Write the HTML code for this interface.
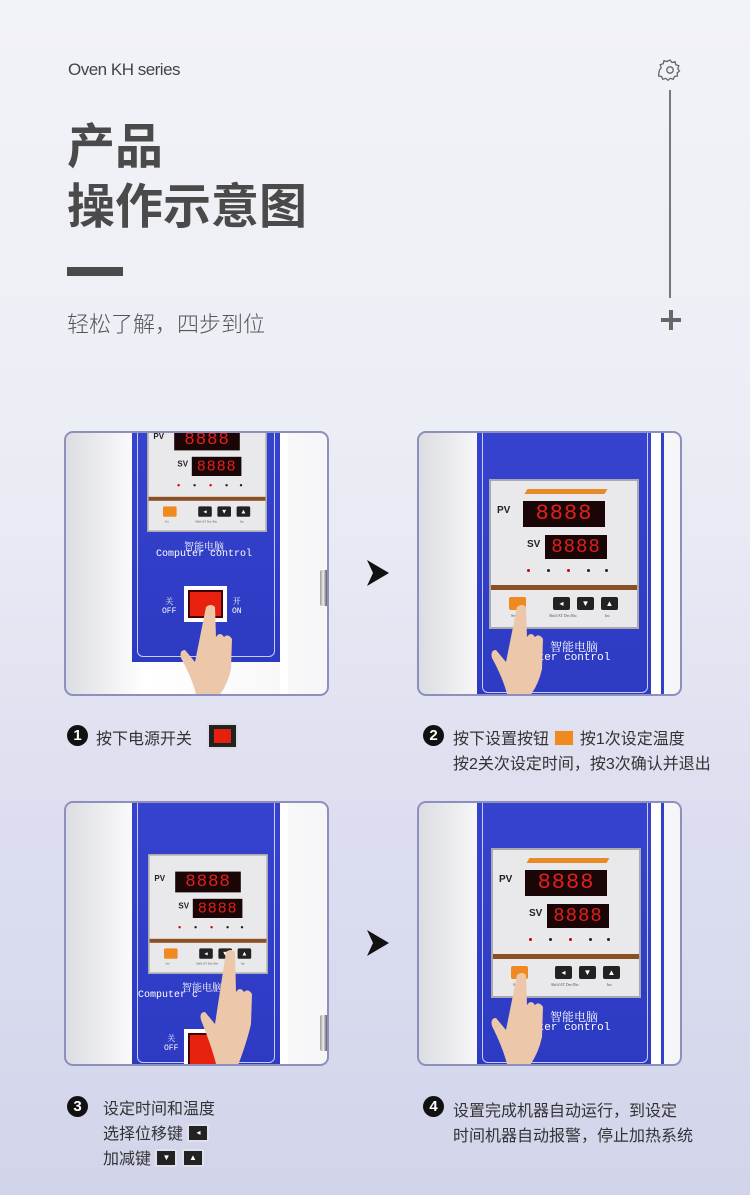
<!DOCTYPE html>
<html><head><meta charset="utf-8"><style>
*{margin:0;padding:0;box-sizing:border-box}
body{width:750px;height:1195px;position:relative;overflow:hidden;font-family:"Liberation Sans","Noto Sans CJK SC",sans-serif;background:linear-gradient(180deg,#f2f3f8 0%,#eceef5 35%,#dcdef0 70%,#d2d4ea 100%);color:#333}
.a{position:absolute}
.panel{position:absolute;width:265px;height:265px;border:2px solid #8d90bd;border-radius:9px;overflow:hidden;background:linear-gradient(90deg,#dcdde2 0%,#f4f4f6 20%,#ffffff 30%,#f6f6f8 100%)}
.blue{position:absolute;background:#3140c8;background:linear-gradient(180deg,#3543cf,#2d3ac2)}
.blue:after{content:"";position:absolute;left:5px;right:5px;top:-10px;bottom:5px;border:1.5px solid #c9cdf3;border-radius:6px}
.ctrl{position:absolute;width:150px;height:150px;background:#e9e9ec;border:2px solid #a9a9ae;transform-origin:0 0}
.disp{position:absolute;background:#1a0606;color:#e0201c;font-family:"Liberation Mono",monospace;letter-spacing:1px;text-align:center;overflow:hidden}
.lbl{position:absolute;font-size:9px;font-weight:bold;color:#222}
.led{position:absolute;width:3px;height:3px;border-radius:50%}
.btn{position:absolute;width:17px;height:13px;background:#222;border-radius:2px;color:#fff;font-size:8px;text-align:center;line-height:13px}
.tiny{position:absolute;font-size:4px;color:#555;font-family:"Liberation Serif",serif}
.num{position:absolute;width:21px;height:21px;border-radius:50%;background:#111;color:#fff;font-size:15px;font-weight:bold;text-align:center;line-height:21px}
.cap{position:absolute;font-size:16px;color:#333;font-family:"Liberation Sans","Noto Sans CJK SC",sans-serif;white-space:nowrap}
.cc{position:absolute;color:#fff;font-family:"Liberation Mono","Noto Serif CJK SC",monospace;font-size:10px;white-space:nowrap;text-align:center}
.ico{display:inline-block;vertical-align:middle;width:18px;height:14px;background:#222;border-radius:2px;position:relative;top:-2px;border:2px solid #dfe0ea;box-sizing:content-box;color:#fff;font-size:8px;line-height:14px;text-align:center}
</style></head><body>

<div class="a" style="left:68px;top:60px;font-size:17px;color:#444;letter-spacing:-0.5px">Oven KH series</div>
<div class="a" style="left:67px;top:112px;font-size:48px;font-weight:bold;color:#4a4a4a;line-height:60px;font-family:'Noto Sans CJK SC',sans-serif">产品<br>操作示意图</div>
<div class="a" style="left:67px;top:267px;width:56px;height:9px;background:#4a4a4a"></div>
<div class="a" style="left:67px;top:307px;font-size:22px;color:#555;font-family:'Noto Sans CJK SC',sans-serif;font-weight:300">轻松了解，四步到位</div>
<svg class="a" style="left:658px;top:58px" width="24" height="24" viewBox="0 0 24 24"><path d="M12 2l2 2.5 3-.8.8 3 3 1-1 3 1.7 2.3-2.4 2 .4 3-3 .5-1.3 2.8-3-1-2.2 2-2.2-2-3 1-1.3-2.8-3-.5.4-3L1.5 12l1.7-2.3-1-3 3-1 .8-3 3 .8z" fill="none" stroke="#666" stroke-width="1.3"/><circle cx="12" cy="12" r="3.2" fill="none" stroke="#666" stroke-width="1.3"/></svg>
<div class="a" style="left:669px;top:90px;width:2px;height:208px;background:#777"></div>
<div class="a" style="left:661px;top:318px;width:20px;height:4px;background:#666"></div>
<div class="a" style="left:669px;top:310px;width:4px;height:20px;background:#666"></div>

<svg class="a" style="left:366px;top:559px" width="24" height="28"><path d="M1 1 L23 14 L1 27 L7 14Z" fill="#111"/></svg>
<svg class="a" style="left:366px;top:929px" width="24" height="28"><path d="M1 1 L23 14 L1 27 L7 14Z" fill="#111"/></svg>

<!-- Panel 1 -->
<div class="panel" style="left:64px;top:431px">
 <div class="blue" style="left:66px;top:0;width:148px;height:229px"></div>
 <div class="a" style="left:214px;top:0;width:8px;height:265px;background:#fff"></div>
 <div class="a" style="left:254px;top:137px;width:10px;height:36px;background:linear-gradient(90deg,#999,#eee,#666,#ddd);border-radius:2px"></div>
 <div class="ctrl" style="left:81px;top:-21px;transform:scale(.8)">
  <div class="lbl" style="left:6px;top:24px;font-size:10px">PV</div>
  <div class="disp" style="left:32px;top:20px;width:82px;height:26px;font-size:22px;line-height:26px">8888</div>
  <div class="lbl" style="left:36px;top:58px;font-size:10px">SV</div>
  <div class="disp" style="left:54px;top:54px;width:62px;height:24px;font-size:19px;line-height:24px">8888</div>
  <div class="led" style="left:36px;top:88px;background:#c00"></div><div class="led" style="left:56px;top:88px;background:#222"></div><div class="led" style="left:76px;top:88px;background:#c00"></div><div class="led" style="left:96px;top:88px;background:#222"></div><div class="led" style="left:114px;top:88px;background:#222"></div>
  <div class="a" style="left:0;top:104px;width:146px;height:5px;background:#8a4f22"></div>
  <div class="btn" style="left:18px;top:116px;background:#f08a20"></div>
  <div class="btn" style="left:62px;top:116px">◂</div><div class="btn" style="left:86px;top:116px">▼</div><div class="btn" style="left:110px;top:116px">▲</div>
  <div class="tiny" style="left:20px;top:132px">Set</div><div class="tiny" style="left:58px;top:132px">Shift/AT Dec/Rst</div><div class="tiny" style="left:114px;top:132px">Inc</div>
 </div>
 <div class="cc" style="left:88px;top:105px;width:100px">智能电脑</div>
 <div class="cc" style="left:88px;top:116px;width:100px">Computer control</div>
 <div class="a" style="left:118px;top:153px;width:43px;height:36px;background:#fff"></div>
 <div class="a" style="left:122px;top:157px;width:35px;height:28px;background:#e8200e;border:2px solid #400"></div>
 <div class="cc" style="left:96px;top:165px;font-size:8px;line-height:9px">关<br>OFF</div>
 <div class="cc" style="left:166px;top:165px;font-size:8px;line-height:9px">开<br>ON</div>
 <svg class="a" style="left:112px;top:170px" width="60" height="95"><path d="M28 4 q5-4 9 0 l1 30 q4-6 8 0 q4-4 8 2 l-1 30 q-4 18 -14 29 h-20 q-4-18-16-40 q-2-8 4-8 l10 12z" fill="#ecc7a9"/></svg>
</div>

<!-- Panel 2 -->
<div class="panel" style="left:417px;top:431px">
 <div class="blue" style="left:58px;top:0;width:176px;height:265px"></div>
 <div class="a" style="left:232px;top:0;width:10px;height:265px;background:#fff"></div>
 <div class="a" style="left:242px;top:0;width:3px;height:265px;background:#3140c8"></div>
 <div class="ctrl" style="left:70px;top:46px">
  <div class="a" style="left:35px;top:8px;width:80px;height:5px;background:#e88a28;transform:skewX(-30deg)"></div>
  <div class="lbl" style="left:6px;top:24px;font-size:10px">PV</div>
  <div class="disp" style="left:32px;top:20px;width:82px;height:26px;font-size:22px;line-height:26px">8888</div>
  <div class="lbl" style="left:36px;top:58px;font-size:10px">SV</div>
  <div class="disp" style="left:54px;top:54px;width:62px;height:24px;font-size:19px;line-height:24px">8888</div>
  <div class="led" style="left:36px;top:88px;background:#c00"></div><div class="led" style="left:56px;top:88px;background:#222"></div><div class="led" style="left:76px;top:88px;background:#c00"></div><div class="led" style="left:96px;top:88px;background:#222"></div><div class="led" style="left:114px;top:88px;background:#222"></div>
  <div class="a" style="left:0;top:104px;width:146px;height:5px;background:#8a4f22"></div>
  <div class="btn" style="left:18px;top:116px;background:#f08a20"></div>
  <div class="btn" style="left:62px;top:116px">◂</div><div class="btn" style="left:86px;top:116px">▼</div><div class="btn" style="left:110px;top:116px">▲</div>
  <div class="tiny" style="left:20px;top:132px">Set</div><div class="tiny" style="left:58px;top:132px">Shift/AT Dec/Rst</div><div class="tiny" style="left:114px;top:132px">Inc</div>
 </div>
 <div class="cc" style="left:105px;top:205px;width:100px;font-size:12px">智能电脑</div>
 <div class="cc" style="left:105px;top:219px;width:100px;font-size:11px">ter control</div>
 <svg class="a" style="left:70px;top:170px" width="60" height="95"><path d="M28 4 q5-4 9 0 l1 30 q4-6 8 0 q4-4 8 2 l-1 30 q-4 18 -14 29 h-20 q-4-18-16-40 q-2-8 4-8 l10 12z" fill="#ecc7a9"/></svg>
</div>

<!-- Panel 3 -->
<div class="panel" style="left:64px;top:801px">
 <div class="blue" style="left:66px;top:0;width:148px;height:265px"></div>
 <div class="a" style="left:214px;top:0;width:8px;height:265px;background:#fff"></div>
 <div class="a" style="left:254px;top:212px;width:10px;height:36px;background:linear-gradient(90deg,#999,#eee,#666,#ddd);border-radius:2px"></div>
 <div class="ctrl" style="left:82px;top:51px;transform:scale(.8)">
  <div class="lbl" style="left:6px;top:24px;font-size:10px">PV</div>
  <div class="disp" style="left:32px;top:20px;width:82px;height:26px;font-size:22px;line-height:26px">8888</div>
  <div class="lbl" style="left:36px;top:58px;font-size:10px">SV</div>
  <div class="disp" style="left:54px;top:54px;width:62px;height:24px;font-size:19px;line-height:24px">8888</div>
  <div class="led" style="left:36px;top:88px;background:#c00"></div><div class="led" style="left:56px;top:88px;background:#222"></div><div class="led" style="left:76px;top:88px;background:#c00"></div><div class="led" style="left:96px;top:88px;background:#222"></div><div class="led" style="left:114px;top:88px;background:#222"></div>
  <div class="a" style="left:0;top:104px;width:146px;height:5px;background:#8a4f22"></div>
  <div class="btn" style="left:18px;top:116px;background:#f08a20"></div>
  <div class="btn" style="left:62px;top:116px">◂</div><div class="btn" style="left:86px;top:116px">▼</div><div class="btn" style="left:110px;top:116px">▲</div>
  <div class="tiny" style="left:20px;top:132px">Set</div><div class="tiny" style="left:58px;top:132px">Shift/AT Dec/Rst</div><div class="tiny" style="left:114px;top:132px">Inc</div>
 </div>
 <div class="cc" style="left:86px;top:176px;width:100px">智能电脑</div>
 <div class="cc" style="left:72px;top:187px">Computer c</div>
 <div class="a" style="left:118px;top:226px;width:42px;height:40px;background:#fff"></div>
 <div class="a" style="left:122px;top:230px;width:34px;height:36px;background:#e8200e;border:2px solid #400"></div>
 <div class="cc" style="left:98px;top:232px;font-size:8px;line-height:9px">关<br>OFF</div>
 <svg class="a" style="left:132px;top:145px" width="60" height="120"><path d="M28 4 q5-4 9 0 l1 40 q4-6 8 0 q4-4 8 2 l-1 30 q-4 18 -14 44 h-20 q-4-18-16-48 q-2-8 4-8 l10 12z" fill="#ecc7a9"/></svg>
</div>

<!-- Panel 4 -->
<div class="panel" style="left:417px;top:801px">
 <div class="blue" style="left:58px;top:0;width:176px;height:265px"></div>
 <div class="a" style="left:232px;top:0;width:10px;height:265px;background:#fff"></div>
 <div class="a" style="left:242px;top:0;width:3px;height:265px;background:#3140c8"></div>
 <div class="ctrl" style="left:72px;top:45px">
  <div class="a" style="left:35px;top:8px;width:80px;height:5px;background:#e88a28;transform:skewX(-30deg)"></div>
  <div class="lbl" style="left:6px;top:24px;font-size:10px">PV</div>
  <div class="disp" style="left:32px;top:20px;width:82px;height:26px;font-size:22px;line-height:26px">8888</div>
  <div class="lbl" style="left:36px;top:58px;font-size:10px">SV</div>
  <div class="disp" style="left:54px;top:54px;width:62px;height:24px;font-size:19px;line-height:24px">8888</div>
  <div class="led" style="left:36px;top:88px;background:#c00"></div><div class="led" style="left:56px;top:88px;background:#222"></div><div class="led" style="left:76px;top:88px;background:#c00"></div><div class="led" style="left:96px;top:88px;background:#222"></div><div class="led" style="left:114px;top:88px;background:#222"></div>
  <div class="a" style="left:0;top:104px;width:146px;height:5px;background:#8a4f22"></div>
  <div class="btn" style="left:18px;top:116px;background:#f08a20"></div>
  <div class="btn" style="left:62px;top:116px">◂</div><div class="btn" style="left:86px;top:116px">▼</div><div class="btn" style="left:110px;top:116px">▲</div>
  <div class="tiny" style="left:20px;top:132px">Set</div><div class="tiny" style="left:58px;top:132px">Shift/AT Dec/Rst</div><div class="tiny" style="left:114px;top:132px">Inc</div>
 </div>
 <div class="cc" style="left:105px;top:205px;width:100px;font-size:12px">智能电脑</div>
 <div class="cc" style="left:105px;top:219px;width:100px;font-size:11px">ter control</div>
 <svg class="a" style="left:70px;top:168px" width="60" height="97"><path d="M28 4 q5-4 9 0 l1 30 q4-6 8 0 q4-4 8 2 l-1 30 q-4 18 -14 31 h-20 q-4-18-16-42 q-2-8 4-8 l10 12z" fill="#ecc7a9"/></svg>
</div>

<!-- captions -->
<div class="num" style="left:67px;top:725px">1</div>
<div class="cap" style="left:96px;top:725px">按下电源开关</div>
<div class="a" style="left:207px;top:723px;width:31px;height:26px;background:#222;border:2px solid #ddd"><div class="a" style="left:5px;top:4px;width:17px;height:14px;background:#e5200f"></div></div>

<div class="num" style="left:423px;top:725px">2</div>
<div class="cap" style="left:453px;top:725px">按下设置按钮 <span class="ico" style="background:#f08a20"></span> 按1次设定温度</div>
<div class="cap" style="left:453px;top:750px">按2关次设定时间，按3次确认并退出</div>

<div class="num" style="left:67px;top:1096px">3</div>
<div class="cap" style="left:103px;top:1095px">设定时间和温度</div>
<div class="cap" style="left:103px;top:1120px">选择位移键 <span class="ico">◂</span></div>
<div class="cap" style="left:103px;top:1145px">加减键 <span class="ico">▼</span> <span class="ico">▲</span></div>

<div class="num" style="left:423px;top:1096px">4</div>
<div class="cap" style="left:453px;top:1097px">设置完成机器自动运行，到设定</div>
<div class="cap" style="left:453px;top:1122px">时间机器自动报警，停止加热系统</div>
</body></html>
